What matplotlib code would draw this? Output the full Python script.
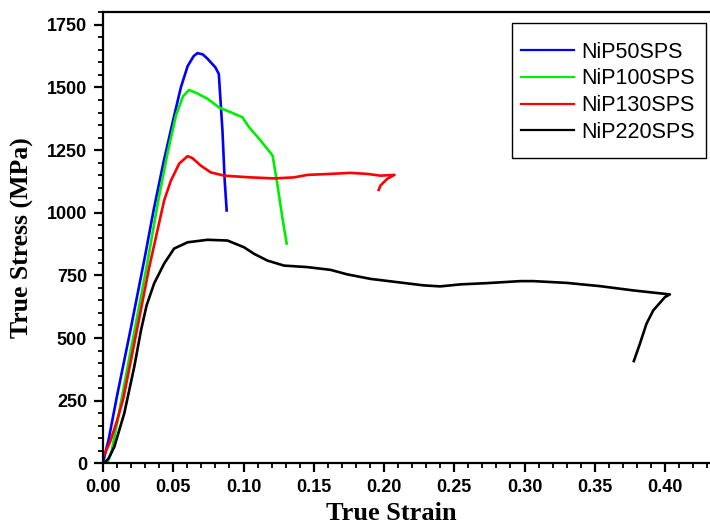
import matplotlib
matplotlib.use("Agg")
import matplotlib.pyplot as plt
from matplotlib.ticker import MultipleLocator, FormatStrFormatter
from matplotlib.patches import Rectangle

# ---- data ----
labels = ["NiP50SPS", "NiP100SPS", "NiP130SPS", "NiP220SPS"]
colors = ["#0000FF", "#00EE00", "#FF0000", "#000000"]

strain_50 = [0.0005, 0.004, 0.010, 0.020, 0.030, 0.036, 0.043, 0.0495, 0.0554, 0.0602,
             0.0645, 0.0672, 0.0710, 0.0743, 0.080, 0.0824, 0.085, 0.0866, 0.088]
stress_50 = [15, 95, 270, 545, 830, 1010, 1200, 1360, 1500, 1585,
             1625, 1637, 1632, 1615, 1580, 1554, 1328, 1128, 1009]

strain_100 = [0.003, 0.006, 0.010, 0.016, 0.022, 0.031, 0.0393, 0.046, 0.052, 0.057,
              0.0613, 0.0672, 0.0743, 0.0826, 0.0909, 0.0992, 0.104, 0.1122, 0.1207, 0.124,
              0.1276, 0.1307]
stress_100 = [0, 45, 160, 340, 517, 783, 1049, 1240, 1390, 1465,
              1490, 1476, 1455, 1420, 1401, 1381, 1341, 1288, 1228, 1116,
              982, 877]

strain_130 = [0.0007, 0.005, 0.010, 0.0145, 0.0236, 0.0329, 0.0435, 0.0483, 0.0542, 0.0602,
              0.0636, 0.0696, 0.0767, 0.0862, 0.105, 0.1217, 0.1359, 0.1454, 0.1619, 0.1761,
              0.188, 0.1974, 0.2074, 0.2022, 0.1974, 0.1962]
stress_130 = [32, 85, 170, 260, 517, 783, 1049, 1128, 1196, 1226,
              1218, 1188, 1161, 1148, 1141, 1137, 1141, 1151, 1155, 1159,
              1155, 1148, 1151, 1135, 1108, 1091]

strain_220 = [0.0009, 0.004, 0.008, 0.0151, 0.0222, 0.027, 0.031, 0.0364, 0.0435, 0.0506,
              0.0602, 0.0744, 0.0886, 0.1004, 0.1075, 0.117, 0.1288, 0.1454, 0.1619, 0.1738,
              0.1903, 0.2093, 0.2282, 0.240, 0.2543, 0.2732, 0.2969, 0.3063, 0.33, 0.3537,
              0.3773, 0.4034, 0.3999, 0.3916, 0.3868, 0.3821, 0.3778]
stress_220 = [0, 20, 65, 199, 384, 530, 630, 718, 797, 857,
              882, 892, 889, 862, 836, 809, 789, 783, 772, 754,
              736, 723, 710, 706, 714, 719, 727, 727, 720, 707,
              690, 674, 663, 610, 557, 477, 408]

xticks = [0.00, 0.05, 0.10, 0.15, 0.20, 0.25, 0.30, 0.35, 0.40]
yticks = [0, 250, 500, 750, 1000, 1250, 1500, 1750]

series = [(strain_50, stress_50), (strain_100, stress_100),
          (strain_130, stress_130), (strain_220, stress_220)]

# ---- figure ----
W, H = 710, 527
fig = plt.figure(figsize=(W / 100, H / 100), dpi=100)
ax = fig.add_axes([0.1451, 0.1209, 1.0 - 0.1451, 0.9767 - 0.1209])

for (x, y), lab, c in zip(series, labels, colors):
    ax.plot(x, y, color=c, lw=1.9, label=lab, solid_joinstyle="round")

ax.set_xlim(0, 0.432)
ax.set_ylim(0, 1800)
ax.set_xticks(xticks)
ax.set_yticks(yticks)
ax.xaxis.set_minor_locator(MultipleLocator(0.01))
ax.yaxis.set_minor_locator(MultipleLocator(50))
ax.xaxis.set_major_formatter(FormatStrFormatter("%.2f"))

for s in ["left", "bottom", "top"]:
    ax.spines[s].set_linewidth(1.6)
ax.spines["right"].set_visible(False)

ax.tick_params(which="major", direction="out", length=6.5, width=1.6, top=False, right=False)
ax.tick_params(which="minor", direction="out", length=3.8, width=1.3, top=False, right=False)
ax.tick_params(axis="y", which="major", pad=5)
ax.tick_params(axis="x", which="major", pad=5)

for lbl in ax.get_xticklabels() + ax.get_yticklabels():
    lbl.set_fontfamily("Liberation Sans")
    lbl.set_fontweight("bold")
    lbl.set_fontsize(13)

ax.set_ylabel("True Stress (MPa)", fontfamily="Liberation Serif", fontweight="bold",
              fontsize=18.5, labelpad=9)
fig.text(391 / W, 1 - 513 / H, "True Strain", fontfamily="Liberation Serif",
         fontweight="bold", fontsize=19, ha="center", va="center")

# legend frame drawn separately for exact padding
frame = Rectangle((512 / W, 1 - 158 / H), (706 - 512) / W, (158 - 23) / H,
                  transform=fig.transFigure, fill=True, facecolor="white",
                  edgecolor="black", lw=1.0, zorder=4, clip_on=False)
ax.add_patch(frame)
leg = ax.legend(loc="upper left", bbox_to_anchor=(521 / W, 1 - 41.5 / H),
                bbox_transform=fig.transFigure, borderaxespad=0, borderpad=0,
                prop={"family": "Liberation Sans", "size": 15.5},
                frameon=False,
                handlelength=2.45, handletextpad=0.33, labelspacing=0.27)
leg.set_zorder(6)
for h in leg.get_lines():
    h.set_linewidth(1.6)

fig.savefig("out.png", dpi=100)
